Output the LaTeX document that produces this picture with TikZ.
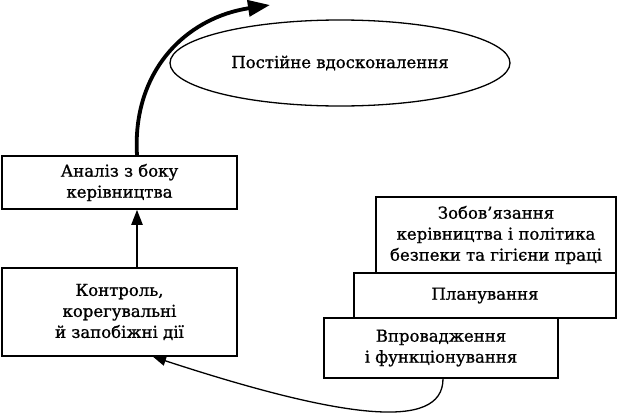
\documentclass[tikz,border=0pt]{standalone}
\usepackage{fontspec}
\setmainfont{DejaVu Serif}[FakeBold=1.0]
\usetikzlibrary{arrows.meta,shapes.geometric}
\begin{document}
\begin{tikzpicture}[x=1pt,y=-1pt,
  txt/.style={font=\fontsize{16.5}{21}\selectfont},
  box/.style={txt, draw=black, line width=1.5pt, fill=white, align=center, inner sep=0pt},
  thickarrow/.style={line width=3.8pt, -{Triangle[length=22pt,width=16pt]}},
  midarrow/.style={line width=2.2pt, -{Triangle[length=15pt,width=11pt]}},
  thinarrow/.style={line width=1.3pt, -{Triangle[length=13pt,width=10pt]}}]
\useasboundingbox (0,0) rectangle (620,415);
% ellipse
\node[txt, draw=black, line width=1.3pt, ellipse, minimum width=340pt, minimum height=86pt, inner sep=0pt] (el) at (340,63) {Постійне вдосконалення};
% left boxes
\node[box, minimum width=235pt, minimum height=53pt] (an) at (119.5,182.5) {Аналіз з боку\\керівництва};
\node[box, minimum width=235pt, minimum height=88pt] (ko) at (119.5,312) {Контроль,\\корегувальні\\й запобіжні дії};
% right stacked boxes
\node[box, minimum width=240pt, minimum height=76pt] (zo) at (496,235) {Зобов’язання\\керівництва і політика\\безпеки та гігієни праці};
\node[box, minimum width=262pt, minimum height=45pt] (pl) at (485,295.5) {Планування};
\node[box, minimum width=234pt, minimum height=60pt] (vp) at (441,348) {Впровадження\\і функціонування};
% connectors
\coordinate (tip) at (270,5);
\draw[thickarrow] ([xshift=17.5pt]an.north) .. controls (132,72) and (185,18) .. (tip);
\draw[midarrow] ([xshift=17.5pt]ko.north) -- ([xshift=17.5pt]an.south);
\draw[thinarrow] ([xshift=2pt]vp.south) .. controls (443,432) and (340,418) .. ([xshift=33.5pt]ko.south);
\end{tikzpicture}
\end{document}
